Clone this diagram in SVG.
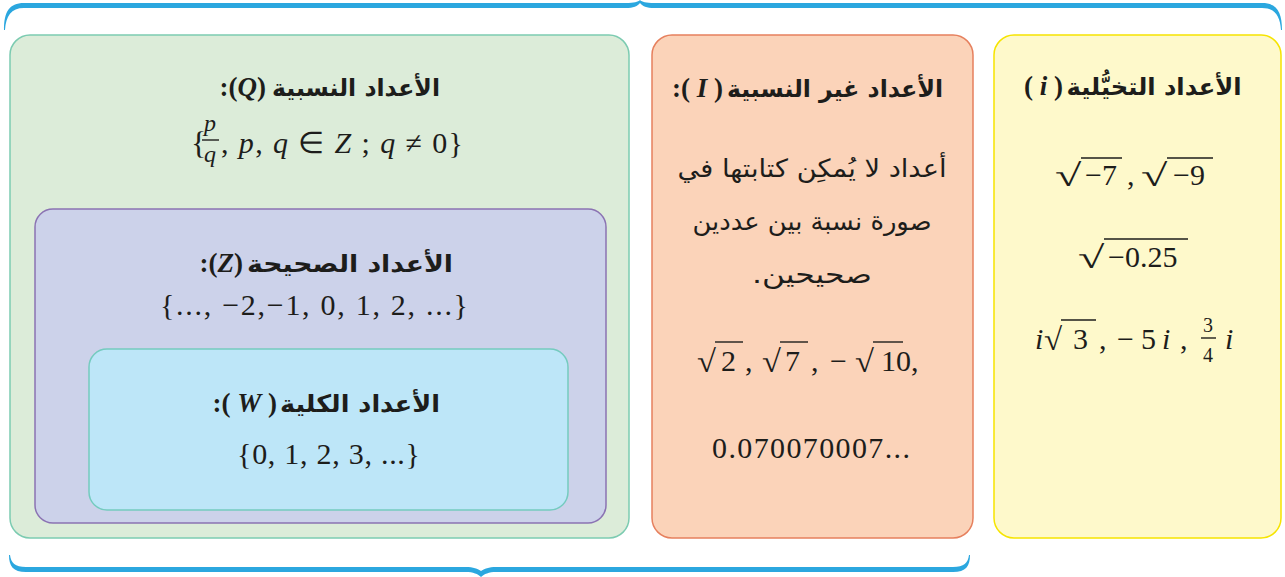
<svg xmlns="http://www.w3.org/2000/svg" width="1285" height="577" viewBox="0 0 1285 577">
<style>
.ar { font-family: "DejaVu Sans", sans-serif; fill: #1d1d1b; }
.arb { font-weight: bold; }
.m { font-family: "Liberation Serif", serif; fill: #1d1d1b; }
.it { font-style: italic; }
.bi { font-style: italic; font-weight: bold; }
.b { font-weight: bold; }
.vin { stroke: #1d1d1b; stroke-width: 1.4; }
.brace { fill: #2ba7df; }
</style>
<rect width="1285" height="577" fill="#ffffff"/>

<g id="braces">
  <path class="brace" d="M4,30 C4,12 9,3 24,3 L626,3 C634,3 638,2 640,0 C642,2 646,3 654,3 L1262,3 C1277,3 1282,12 1282,30 L1281,30 C1280,16 1275,8 1262,8 L654,8 C647,8 642,6 640,3 C638,6 633,8 626,8 L24,8 C11,8 6,16 5,30 Z"/>
  <path class="brace" d="M9,555 C9,566 13,572 26,572 L466,572 C473,572 478,574 481,577 C484,574 489,572 496,572 L953,572 C966,572 970,566 970,555 L969,555 C968,563 964,567 953,567 L496,567 C489,567 484,569 481,571 C478,569 473,567 466,567 L26,567 C15,567 11,563 10,555 Z"/>
</g>

<g id="rational">
  <rect x="10" y="35" width="619" height="503" rx="20" fill="#dcecd9" stroke="#7ccbb1" stroke-width="1.5"/>
  <text class="ar arb" x="356" y="96" font-size="24" text-anchor="middle" textLength="168" lengthAdjust="spacingAndGlyphs">الأعداد النسبية</text>
  <text class="m b" x="266" y="96" font-size="27" text-anchor="end">:(<tspan class="bi">Q</tspan>)</text>
  <text class="m" x="191" y="154" font-size="32">{</text>
  <text class="m it" x="210" y="131" font-size="24" text-anchor="middle">p</text>
  <line class="vin" x1="202" y1="140" x2="219" y2="140"/>
  <text class="m it" x="210" y="162" font-size="24" text-anchor="middle">q</text>
  <text class="m" x="221" y="153" font-size="30" textLength="242" lengthAdjust="spacing">, <tspan class="it">p</tspan>, <tspan class="it">q</tspan> ∈ <tspan class="it">Z</tspan> ; <tspan class="it">q</tspan> ≠ 0}</text>
</g>

<g id="integers">
  <rect x="35" y="209" width="571" height="314" rx="18" fill="#ccd2ea" stroke="#8b73b3" stroke-width="1.5"/>
  <text class="ar arb" x="350" y="272" font-size="24" text-anchor="middle" textLength="206" lengthAdjust="spacingAndGlyphs">الأعداد الصحيحة</text>
  <text class="m b" x="243" y="272" font-size="27" text-anchor="end">:(<tspan class="bi">Z</tspan>)</text>
  <text class="m" x="160" y="315" font-size="30" textLength="308" lengthAdjust="spacing">{..., −2,−1, 0, 1, 2, ...}</text>
</g>

<g id="whole">
  <rect x="89" y="349" width="479" height="161" rx="18" fill="#bde6f8" stroke="#74cbbf" stroke-width="1.5"/>
  <text class="ar arb" x="360" y="412" font-size="24" text-anchor="middle" textLength="160" lengthAdjust="spacingAndGlyphs">الأعداد الكلية</text>
  <text class="m b" x="277" y="412" font-size="27" text-anchor="end">:( <tspan class="bi">W</tspan> )</text>
  <text class="m" x="237" y="464" font-size="30" textLength="183" lengthAdjust="spacing">{0, 1, 2, 3, ...}</text>
</g>

<g id="irrational">
  <rect x="652" y="35" width="321" height="503" rx="20" fill="#fbd3b9" stroke="#e6805e" stroke-width="1.5"/>
  <text class="ar arb" x="835" y="97" font-size="24" text-anchor="middle" textLength="216" lengthAdjust="spacingAndGlyphs">الأعداد غير النسبية</text>
  <text class="m b" x="723" y="97" font-size="27" text-anchor="end">:( <tspan class="bi">I</tspan> )</text>
  <text class="ar" x="812" y="177" font-size="25" text-anchor="middle" direction="rtl" textLength="269" lengthAdjust="spacingAndGlyphs">أعداد لا يُمكِن كتابتها في</text>
  <text class="ar" x="812" y="230" font-size="25" text-anchor="middle" direction="rtl" textLength="239" lengthAdjust="spacingAndGlyphs">صورة نسبة بين عددين</text>
  <text class="ar" x="812" y="283" font-size="25" text-anchor="middle" direction="rtl" textLength="120" lengthAdjust="spacingAndGlyphs">صحيحين.&#x200F;</text>
  <text class="m" transform="translate(697,372) scale(1.15,1.04)" font-size="30">√</text>
  <line class="vin" x1="715" y1="342" x2="743" y2="342"/>
  <text class="m" x="721" y="371" font-size="30">2</text>
  <text class="m" x="745" y="371" font-size="30">,</text>
  <text class="m" transform="translate(762,372) scale(1.15,1.04)" font-size="30">√</text>
  <line class="vin" x1="780" y1="342" x2="808" y2="342"/>
  <text class="m" x="785" y="371" font-size="30">7</text>
  <text class="m" x="811" y="371" font-size="30">,</text>
  <text class="m" x="830" y="371" font-size="30">−</text>
  <text class="m" transform="translate(855,372) scale(1.15,1.04)" font-size="30">√</text>
  <line class="vin" x1="873" y1="342" x2="903" y2="342"/>
  <text class="m" x="881" y="371" font-size="30">10,</text>
  <text class="m" x="712" y="458" font-size="30" textLength="198" lengthAdjust="spacing">0.070070007...</text>
</g>

<g id="imaginary">
  <rect x="994" y="35" width="287" height="503" rx="20" fill="#fef9cb" stroke="#f6e400" stroke-width="1.5"/>
  <text class="ar arb" x="1154" y="95" font-size="24" text-anchor="middle" textLength="175" lengthAdjust="spacingAndGlyphs">الأعداد التخيُّلية</text>
  <text class="m b" x="1063" y="95" font-size="27" text-anchor="end">( <tspan class="bi">i</tspan> )</text>
  <text class="m" transform="translate(1055,186) scale(1.6,1.04)" font-size="30">√</text>
  <line class="vin" x1="1081" y1="158" x2="1122" y2="158"/>
  <text class="m" x="1085" y="185" font-size="30">−7</text>
  <text class="m" x="1127" y="185" font-size="30">,</text>
  <text class="m" transform="translate(1141,186) scale(1.6,1.04)" font-size="30">√</text>
  <line class="vin" x1="1167" y1="158" x2="1213" y2="158"/>
  <text class="m" x="1173" y="185" font-size="30">−9</text>
  <text class="m" transform="translate(1078,268) scale(1.6,1.04)" font-size="30">√</text>
  <line class="vin" x1="1104" y1="239" x2="1188" y2="239"/>
  <text class="m" x="1108" y="267" font-size="30">−0.25</text>
  <text class="m it" x="1035" y="349" font-size="30">i</text>
  <text class="m" transform="translate(1044,350) scale(1.1,1.04)" font-size="30">√</text>
  <line class="vin" x1="1061" y1="320" x2="1096" y2="320"/>
  <text class="m" x="1073" y="349" font-size="30">3</text>
  <text class="m" x="1099" y="349" font-size="30">,</text>
  <text class="m" x="1117" y="349" font-size="30">−</text>
  <text class="m" x="1141" y="349" font-size="30">5</text>
  <text class="m it" x="1162" y="349" font-size="30">i</text>
  <text class="m" x="1180" y="349" font-size="30">,</text>
  <text class="m" x="1208" y="332" font-size="20" text-anchor="middle">3</text>
  <line class="vin" x1="1201" y1="338" x2="1216" y2="338" stroke-width="1"/>
  <text class="m" x="1208" y="362" font-size="20" text-anchor="middle">4</text>
  <text class="m it" x="1225" y="349" font-size="30">i</text>
</g>
</svg>
